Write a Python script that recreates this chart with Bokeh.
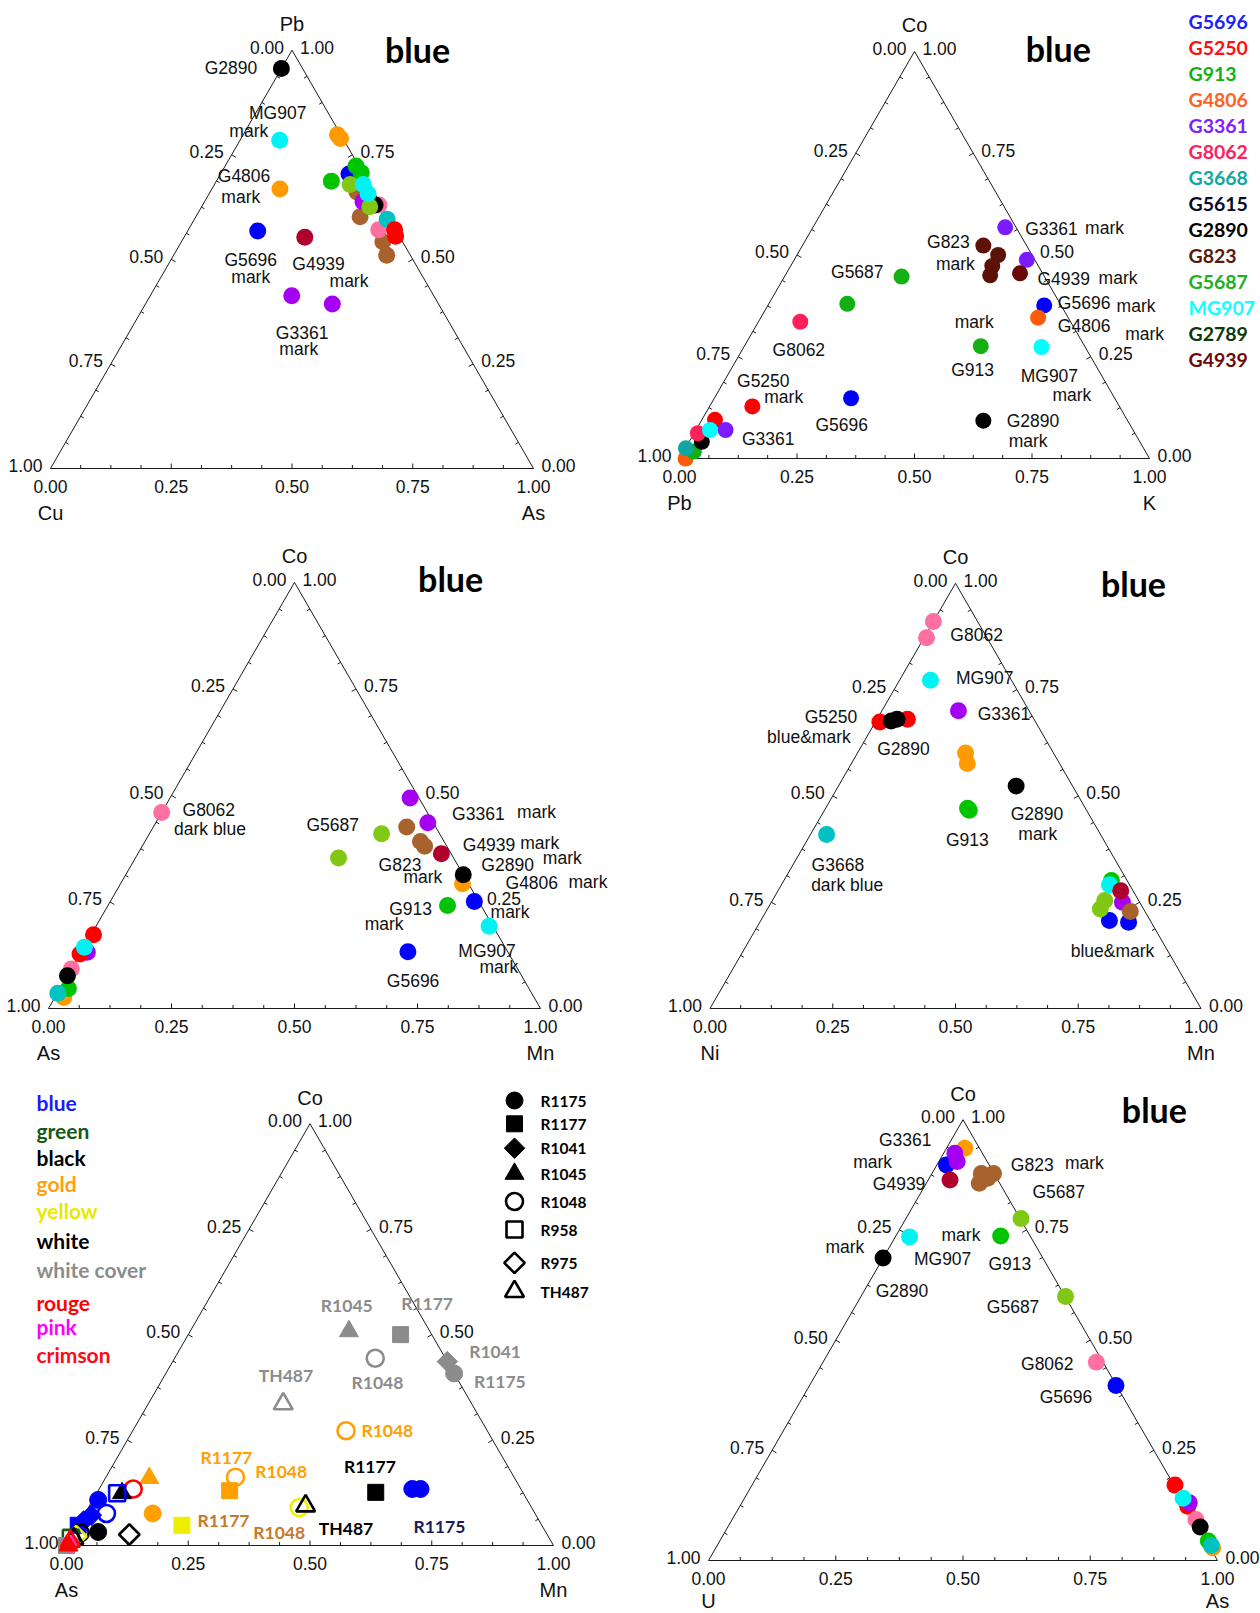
import math
import numpy as np
from bokeh.plotting import figure
from bokeh.models import Range1d, ColumnDataSource
from bokeh.embed import file_html
from bokeh.resources import INLINE
from bokeh.core.properties import value

S3 = math.sqrt(3) / 2

# ---------------- colours ----------------
BLACK = "#000000"; CYAN = "#00f2f2"; ORANGE = "#ff9a00"; BLUE = "#0000ff"
CRIMSON = "#b0002c"; PURPLE = "#a600f2"; GREEN = "#00c400"; LIME = "#80c814"
BROWN = "#a8622e"; PINK = "#ff6fa0"; TEAL = "#00c2c2"; RED = "#ff0000"
V2 = "#7a1cff"; DBR2 = "#5c1206"; DCR2 = "#6a0808"; GR2 = "#12b012"; PK2 = "#ff1f5a"
OR2 = "#ff5a0a"; TL2 = "#10a8a0"; CY2 = "#00ffff"
GRAY = "#8c8c8c"; GOLD = "#ffa000"; YEL = "#eeee00"; BL5 = "#1440f0"; DGR = "#145a14"
BRO5 = "#c8782a"; NAVY = "#1a1a5a"

# ---------------- data ----------------
# Panel 1: Pb (top), As (right), Cu = rest
p1_pb = [0.956, 0.785, 0.798, 0.789, 0.668, 0.568, 0.553, 0.413, 0.393, 0.687,
         0.661, 0.602, 0.542, 0.510, 0.704, 0.638, 0.630, 0.571, 0.630, 0.723,
         0.707, 0.679, 0.626, 0.679, 0.657, 0.596, 0.571, 0.555]
p1_as = [0.000, 0.082, 0.195, 0.206, 0.141, 0.145, 0.250, 0.293, 0.387, 0.238,
         0.304, 0.340, 0.417, 0.441, 0.266, 0.328, 0.365, 0.394, 0.357, 0.271,
         0.290, 0.281, 0.348, 0.308, 0.329, 0.399, 0.427, 0.437]
p1_col = [BLACK, CYAN, ORANGE, ORANGE, ORANGE, BLUE, CRIMSON, PURPLE, PURPLE, GREEN,
          BROWN, BROWN, BROWN, BROWN, BLUE, PURPLE, PINK, PINK, BLACK, GREEN,
          GREEN, LIME, LIME, CYAN, CYAN, TEAL, RED, RED]

# Panel 2: Co (top), K (right), Pb = rest
p2_co = [0.568, 0.523, 0.500, 0.473, 0.450, 0.488, 0.455, 0.447, 0.380, 0.336,
         0.376, 0.346, 0.276, 0.274, 0.128, 0.148, 0.093,
         0.000, 0.017, 0.025, 0.041, 0.062, 0.095, 0.070, 0.070]
p2_k = [0.409, 0.385, 0.428, 0.429, 0.436, 0.495, 0.497, 0.249, 0.167, 0.089,
        0.588, 0.590, 0.503, 0.633, 0.091, 0.291, 0.600,
        0.013, 0.022, 0.001, 0.027, 0.008, 0.028, 0.063, 0.030]
p2_col = [V2, DBR2, DBR2, DBR2, DBR2, V2, DCR2, GR2, GR2, PK2,
          BLUE, OR2, GR2, CY2, RED, BLUE, BLACK,
          OR2, GR2, TL2, BLACK, PK2, RED, V2, CY2]

# Panel 3: Co (top), Mn (right), As = rest
p3_co = [0.460, 0.494, 0.436, 0.426, 0.410, 0.392, 0.381, 0.363, 0.353, 0.293,
         0.314, 0.251, 0.242, 0.193, 0.133,
         0.173, 0.026, 0.047, 0.036, 0.093, 0.077, 0.132, 0.128, 0.144]
p3_mn = [0.000, 0.488, 0.553, 0.515, 0.472, 0.560, 0.574, 0.617, 0.413, 0.695,
         0.686, 0.740, 0.690, 0.799, 0.664,
         0.005, 0.018, 0.017, 0.001, 0.000, 0.000, 0.013, 0.000, 0.001]
p3_col = [PINK, PURPLE, PURPLE, BROWN, LIME, BROWN, BROWN, CRIMSON, LIME, ORANGE,
          BLACK, BLUE, GREEN, CYAN, BLUE,
          RED, ORANGE, GREEN, TEAL, PINK, BLACK, PURPLE, RED, CYAN]

# Panel 4: Co (top), Mn (right), Ni = rest
p4_co = [0.910, 0.872, 0.772, 0.700, 0.674, 0.680, 0.676, 0.680, 0.601, 0.576,
         0.523, 0.471, 0.466, 0.409,
         0.207, 0.203, 0.250, 0.254, 0.234, 0.228, 0.301, 0.291, 0.277]
p4_mn = [0.000, 0.005, 0.063, 0.156, 0.009, 0.062, 0.031, 0.041, 0.220, 0.236,
         0.362, 0.289, 0.295, 0.033,
         0.710, 0.751, 0.715, 0.677, 0.678, 0.742, 0.667, 0.668, 0.698]
p4_col = [PINK, PINK, CYAN, PURPLE, RED, RED, BLACK, BLACK, ORANGE, ORANGE,
          BLACK, GREEN, GREEN, TEAL,
          BLUE, BLUE, PURPLE, LIME, LIME, BROWN, GREEN, CYAN, CRIMSON]

# Panel 5: Co (top), Mn (right), As = rest; marker shape / filled / colour
p5_co = [0.508, 0.500, 0.444, 0.436, 0.408, 0.336, 0.272, 0.162, 0.130, 0.160,
         0.076, 0.048, 0.090, 0.094, 0.126, 0.134, 0.134, 0.026, 0.032, 0.134,
         0.124, 0.124, 0.108, 0.076, 0.072, 0.058, 0.048, 0.030, 0.022, 0.018,
         0.016, 0.000, 0.004, 0.010, 0.000]
p5_mn = [0.326, 0.436, 0.412, 0.564, 0.592, 0.277, 0.438, 0.266, 0.270, 0.090,
         0.139, 0.213, 0.433, 0.444, 0.572, 0.643, 0.660, 0.116, 0.049, 0.070,
         0.052, 0.042, 0.011, 0.044, 0.015, 0.006, 0.000, 0.013, 0.009, 0.000,
         0.007, 0.000, 0.006, 0.003, 0.004]
p5_shape = ["triangle", "square", "circle", "diamond", "circle", "triangle", "circle", "circle", "square", "triangle",
            "circle", "square", "circle", "triangle", "square", "circle", "circle", "diamond", "circle", "circle",
            "triangle", "square", "circle", "circle", "diamond", "diamond", "square", "circle", "diamond", "square",
            "triangle", "square", "circle", "triangle", "triangle"]
p5_filled = [1, 1, 0, 1, 1, 0, 0, 0, 1, 1,
             1, 1, 0, 0, 1, 1, 1, 0, 1, 0,
             1, 0, 1, 0, 1, 1, 1, 0, 0, 0,
             0, 1, 1, 0, 1]
p5_col = [GRAY, GRAY, GRAY, GRAY, GRAY, GRAY, GOLD, GOLD, GOLD, GOLD,
          GOLD, YEL, YEL, BLACK, BLACK, BLUE, BLUE, BLACK, BLACK, RED,
          BLACK, BLUE, BLUE, BLUE, BLUE, BLUE, BLUE, BLACK, YEL, DGR,
          BLACK, GRAY, "#ff40c0", RED, RED]

# Panel 6: Co (top), As (right), U = rest
p6_co = [0.935, 0.897, 0.924, 0.905, 0.863, 0.878, 0.878, 0.856, 0.867, 0.776,
         0.736, 0.734, 0.686, 0.599, 0.450, 0.397,
         0.171, 0.123, 0.131, 0.141, 0.093, 0.076, 0.029, 0.044, 0.034]
p6_as = [0.036, 0.019, 0.022, 0.036, 0.043, 0.097, 0.121, 0.104, 0.115, 0.226,
         0.206, 0.028, 0.000, 0.402, 0.537, 0.602,
         0.831, 0.880, 0.879, 0.862, 0.911, 0.928, 0.976, 0.960, 0.971]
p6_col = [ORANGE, BLUE, PURPLE, PURPLE, CRIMSON, BROWN, BROWN, BROWN, BROWN, LIME,
          GREEN, CYAN, BLACK, LIME, PINK, BLUE,
          RED, RED, PURPLE, CYAN, PINK, BLACK, ORANGE, GREEN, TEAL]

# legends
legend2_names = ["G5696", "G5250", "G913", "G4806", "G3361", "G8062", "G3668",
                 "G5615", "G2890", "G823", "G5687", "MG907", "G2789", "G4939"]
legend2_cols = ["#2020ff", "#ff1010", "#12b012", "#ff5f1f", "#8020ff", "#ff2060", "#10a8a0",
                "#0a0a2a", "#000000", "#5a1a0a", "#20b020", "#10ffff", "#0a3a0a", "#6a0a0a"]
legend5_names = ["blue", "green", "black", "gold", "yellow", "white", "white cover",
                 "rouge", "pink", "crimson"]
legend5_cols = ["#1a1aff", DGR, BLACK, "#ffa010", "#e8e800", BLACK, GRAY, RED, "#ff00ff", "#ff0a14"]
shape_names = ["R1175", "R1177", "R1041", "R1045", "R1048", "R958", "R975", "TH487"]
shape_marks = ["circle", "square", "diamond", "triangle", "circle", "square", "diamond", "triangle"]
shape_fill = [1, 1, 1, 1, 0, 0, 0, 0]

# point labels (text, u, v) in fractions of each triangle's base / height
LAB1 = [("G2890", 0.3736, 0.958), ("MG907", 0.4704, 0.850), ("mark", 0.4105, 0.806),
        ("G4806", 0.4007, 0.700), ("mark", 0.394, 0.648), ("G5696", 0.4146, 0.498),
        ("mark", 0.4146, 0.458), ("G4939", 0.555, 0.488), ("mark", 0.618, 0.448),
        ("G3361", 0.521, 0.325), ("mark", 0.514, 0.285)]
LAB2 = [("G3361", 0.7913, 0.5638), ("mark", 0.9043, 0.5654), ("G823", 0.5722, 0.5309),
        ("mark", 0.587, 0.479), ("G4939", 0.8174, 0.4403), ("mark", 0.933, 0.4444),
        ("G5696", 0.8609, 0.3827), ("mark", 0.9713, 0.3745), ("G4806", 0.8609, 0.3267),
        ("mark", 0.9896, 0.3062), ("G5687", 0.3783, 0.4584), ("G8062", 0.2539, 0.2675),
        ("mark", 0.627, 0.335), ("G913", 0.6235, 0.2181), ("MG907", 0.787, 0.2016),
        ("mark", 0.8348, 0.1564), ("G5250", 0.1783, 0.191), ("mark", 0.2217, 0.1506),
        ("G5696", 0.3452, 0.0823), ("G2890", 0.7522, 0.093), ("mark", 0.7417, 0.0436),
        ("G3361", 0.1887, 0.0469)]
LAB3 = [("G8062", 0.3258, 0.4651), ("dark blue", 0.3282, 0.422), ("G5687", 0.5776, 0.4298),
        ("G3361", 0.8737, 0.4573), ("mark", 0.992, 0.4612), ("G4939", 0.8954, 0.3843),
        ("mark", 0.9984, 0.389), ("mark", 1.0443, 0.3529), ("G823", 0.7144, 0.3357),
        ("mark", 0.761, 0.3082), ("G2890", 0.9332, 0.3357), ("G4806", 0.9823, 0.2949),
        ("mark", 1.0965, 0.298), ("mark", 0.938, 0.2275), ("G913", 0.7361, 0.2337),
        ("mark", 0.6822, 0.1984), ("MG907", 0.8914, 0.1341), ("mark", 0.9155, 0.0965),
        ("G5696", 0.741, 0.0651)]
LAB4 = [("G8062", 0.543, 0.8782), ("MG907", 0.5594, 0.7761), ("G3361", 0.5987, 0.6936),
        ("G5250", 0.2465, 0.6858), ("blue&mark", 0.2015, 0.6386), ("G2890", 0.3939, 0.6112),
        ("G2890", 0.6658, 0.458), ("mark", 0.6675, 0.4108), ("G913", 0.5242, 0.3951),
        ("G3668", 0.2604, 0.3378), ("dark blue", 0.2793, 0.2907), ("blue&mark", 0.8198, 0.1359)]
LAB5 = [("R1045", 0.5755, 0.568, GRAY), ("R1177", 0.7404, 0.5744, GRAY),
        ("R1041", 0.88, 0.46, GRAY), ("R1048", 0.6384, 0.3856, GRAY),
        ("R1175", 0.8898, 0.388, GRAY), ("TH487", 0.4506, 0.404, GRAY),
        ("R1048", 0.6588, 0.272, GOLD), ("R1177", 0.3282, 0.208, GOLD),
        ("R1048", 0.4408, 0.1744, GOLD), ("R1177", 0.6229, 0.188, BLACK),
        ("R1177", 0.3224, 0.06, BRO5), ("R1048", 0.4367, 0.0304, BRO5),
        ("TH487", 0.5739, 0.04, BLACK), ("R1175", 0.7657, 0.0456, NAVY)]
LAB6 = [("G3361", 0.3864, 0.9544), ("mark", 0.3224, 0.9049), ("G4939", 0.3744, 0.8532),
        ("G823", 0.636, 0.8973), ("mark", 0.7384, 0.9011), ("G5687", 0.688, 0.8365),
        ("mark", 0.496, 0.7392), ("G913", 0.592, 0.673), ("MG907", 0.46, 0.6844),
        ("mark", 0.268, 0.711), ("G2890", 0.38, 0.6122), ("G5687", 0.5984, 0.5741),
        ("G8062", 0.6656, 0.4449), ("G5696", 0.7024, 0.3711)]

# ---------------- layout (page px): bottom-left corner x, y, side ----------------
G1 = (50, 468, 483)
G2 = (679, 458, 470)
G3 = (48, 1008, 492)
G4 = (709.5, 1008, 491)
G5 = (66, 1545, 487)
G6 = (708, 1560, 509)

AX_FONT = "Liberation Sans"
LEG_FONT = "Lato"

PW, PH = 1260, 1612
p = figure(width=PW, height=PH, x_range=Range1d(0, PW), y_range=Range1d(PH, 0),
           output_backend="svg", toolbar_location=None, x_axis_type=None, y_axis_type=None,
           min_border=0)
p.grid.visible = False
p.outline_line_color = None
p.background_fill_color = "white"


def tern(g, top, right):
    bx, by, w = g
    top = np.asarray(top, dtype=float)
    right = np.asarray(right, dtype=float)
    return bx + (right + top / 2) * w, by - top * w * S3


def uvpos(g, u, v):
    bx, by, w = g
    return bx + np.asarray(u) * w, by - np.asarray(v) * w * S3


def txt(xs, ys, texts, size, color="#111111", font=AX_FONT, align="center",
        baseline="middle", style="normal"):
    p.text(x=list(xs), y=list(ys), text=list(texts), text_font=value(font),
           text_font_size=size, text_color=color, text_align=align,
           text_baseline=baseline, text_font_style=style)


def frame(g, names, name_dy=44):
    bx, by, w = g
    h = w * S3
    axx, axy = bx + w / 2, by - h
    p.line([bx, bx + w, axx, bx], [by, by, axy, by], line_color="#1a1a1a", line_width=1.0)
    fr = np.arange(1, 16) / 16.0
    ln = np.where(np.isclose((fr * 4) % 1, 0), 5.0, 3.5)
    x0 = []; y0 = []; x1 = []; y1 = []
    bxs = bx + fr * w
    x0 += list(bxs); y0 += [by] * 15; x1 += list(bxs); y1 += list(by - ln)
    lx = bx + fr * w / 2; ly = by - fr * h
    x0 += list(lx); y0 += list(ly); x1 += list(lx + 0.866 * ln); y1 += list(ly + 0.5 * ln)
    rx = bx + w - fr * w / 2; ry = by - fr * h
    x0 += list(rx); y0 += list(ry); x1 += list(rx - 0.866 * ln); y1 += list(ry + 0.5 * ln)
    p.segment(x0, y0, x1, y1, line_color="#1a1a1a", line_width=1.0)
    tv = np.array([0.0, 0.25, 0.5, 0.75, 1.0])
    labs = ["%.2f" % t for t in tv]
    txt(bx + tv * w, [by + 18] * 5, labs, "17.5px")
    t = 1 - tv
    txt(bx + t * w / 2 - 8, by - t * h - 3, labs, "17.5px", align="right")
    txt(bx + w - tv * w / 2 + 8, by - tv * h - 3, labs, "17.5px", align="left")
    top, left, right = names
    txt([axx], [axy - 26], [top], "20px")
    txt([bx, bx + w], [by + name_dy, by + name_dy], [left, right], "20px")


def title_blue(g, u, v):
    x, y = uvpos(g, [u], [v])
    txt(x, y, ["blue"], "34px", color="#000000", font=LEG_FONT, style="bold")


def dots(g, top, right, cols, size=17):
    x, y = tern(g, top, right)
    p.scatter(x=list(x), y=list(y), size=size, fill_color=cols, line_color=None, marker="circle")


def labels(g, items, size="17.5px"):
    u = [it[1] for it in items]; v = [it[2] for it in items]
    x, y = uvpos(g, u, v)
    txt(x, y, [it[0] for it in items], size)


# ---------- Panel 1
frame(G1, ("Pb", "Cu", "As"))
dots(G1, p1_pb, p1_as, p1_col)
labels(G1, LAB1)
title_blue(G1, 0.760, 1.0016)

# ---------- Panel 2
frame(G2, ("Co", "Pb", "K"))
dots(G2, p2_co, p2_k, p2_col, size=16)
labels(G2, LAB2)
title_blue(G2, 0.806, 1.008)
ly2 = 20.7 + 26.05 * np.arange(len(legend2_names))
txt([1188] * len(legend2_names), ly2, legend2_names, "19.5px", color=legend2_cols,
    font=LEG_FONT, align="left", style="bold")

# ---------- Panel 3
frame(G3, ("Co", "As", "Mn"))
dots(G3, p3_co, p3_mn, p3_col)
labels(G3, LAB3)
title_blue(G3, 0.8174, 1.0102)

# ---------- Panel 4
frame(G4, ("Co", "Ni", "Mn"))
dots(G4, p4_co, p4_mn, p4_col)
labels(G4, LAB4)
title_blue(G4, 0.8624, 1.0)

# ---------- Panel 5
frame(G5, ("Co", "As", "Mn"))


def shape_source(xs, ys, shapes, filled, cols):
    mk = []; ang = []; sz = []
    for s in shapes:
        if s == "diamond":
            mk.append("square"); ang.append(math.pi / 4); sz.append(14.5)
        elif s == "triangle":
            mk.append("triangle"); ang.append(0.0); sz.append(19)
        elif s == "square":
            mk.append("square"); ang.append(0.0); sz.append(16)
        else:
            mk.append("circle"); ang.append(0.0); sz.append(17)
    fa = [1.0 if f else 0.0 for f in filled]
    lw = [1.0 if f else 2.6 for f in filled]
    return ColumnDataSource(dict(x=list(xs), y=list(ys), marker=mk, angle=ang, size=sz,
                                 fill=list(cols), line=list(cols), fa=fa, lw=lw))


x5, y5 = tern(G5, p5_co, p5_mn)
src5 = shape_source(x5, y5, p5_shape, p5_filled, p5_col)
p.scatter(x="x", y="y", marker="marker", angle="angle", size="size", fill_color="fill",
          fill_alpha="fa", line_color="line", line_width="lw", source=src5)
x5l, y5l = uvpos(G5, [it[1] for it in LAB5], [it[2] for it in LAB5])
txt(x5l, y5l, [it[0] for it in LAB5], "17.5px", color=[it[3] for it in LAB5],
    font=LEG_FONT, style="bold")
ly5 = [1101.7, 1130, 1156.7, 1183.3, 1210, 1240, 1269, 1301.7, 1326, 1354.3]
txt([36] * len(legend5_names), ly5, legend5_names, "21px", color=legend5_cols,
    font=LEG_FONT, align="left", style="bold")
lys = [1100, 1123.3, 1147.7, 1173.3, 1201, 1229, 1262.3, 1291]
srcl = shape_source([514] * 8, lys, shape_marks, shape_fill, [BLACK] * 8)
p.scatter(x="x", y="y", marker="marker", angle="angle", size="size", fill_color="fill",
          fill_alpha="fa", line_color="line", line_width="lw", source=srcl)
txt([540] * 8, lys, shape_names, "15.5px", color=BLACK, font=LEG_FONT, align="left",
    style="bold")

# ---------- Panel 6
frame(G6, ("Co", "U", "As"), name_dy=40)
dots(G6, p6_co, p6_as, p6_col)
labels(G6, LAB6)
title_blue(G6, 0.876, 1.0228)

open("out.html", "w").write(file_html(p, INLINE))
